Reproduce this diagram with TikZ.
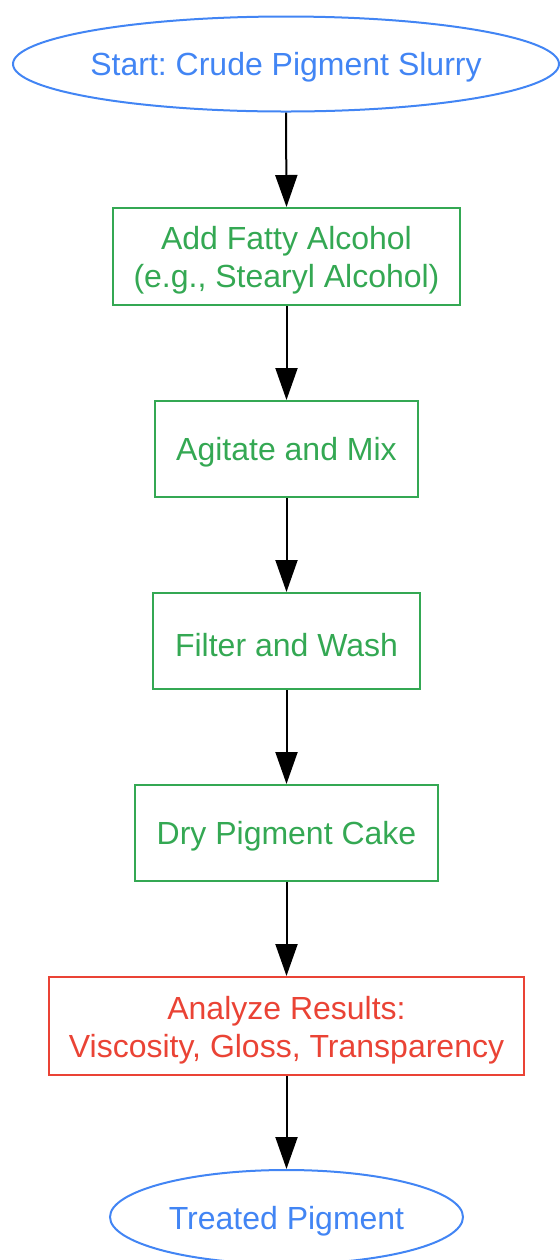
\documentclass[tikz,border=0pt]{standalone}
\usepackage{fontspec}
\setmainfont{Liberation Sans}
\usetikzlibrary{shapes.geometric,arrows.meta}
\definecolor{gblue}{HTML}{4285F4}
\definecolor{ggreen}{HTML}{34A853}
\definecolor{gred}{HTML}{EA4335}
\frenchspacing
\newcommand{\toppad}{\rule{0pt}{15.5pt}}
\begin{document}
\begin{tikzpicture}[x=0.5pt,y=-0.5pt,
  base/.style={line width=1pt,inner sep=0pt,font=\fontsize{16pt}{19pt}\selectfont},
  one/.style={text height=15.2pt},
  term/.style={base,one,ellipse,draw=gblue,text=gblue,inner xsep=-2pt},
  stepbox/.style={base,rectangle,draw=ggreen,text=ggreen,align=center},
  redbox/.style={base,rectangle,draw=gred,text=gred,align=center},
  conn/.style={-{Triangle[length=16pt,width=11pt]},line width=1pt,black}]
\useasboundingbox (0,0) rectangle (559,1260);
\node[term,minimum width=273pt,minimum height=47.5pt] (start) at (286,64) {Start: Crude Pigment Slurry};
\node[stepbox,minimum width=173.5pt,minimum height=48.5pt] (add) at (286.5,256.5) {\toppad Add Fatty Alcohol\\(e.g., Stearyl Alcohol)};
\node[stepbox,one,minimum width=131.5pt,minimum height=48pt] (mix) at (286.5,449) {Agitate and Mix};
\node[stepbox,one,minimum width=133.5pt,minimum height=48pt] (filt) at (286.5,641) {Filter and Wash};
\node[stepbox,one,minimum width=151.5pt,minimum height=48pt] (dry) at (286.5,833) {Dry Pigment Cake};
\node[redbox,minimum width=237.5pt,minimum height=49pt] (ana) at (286.5,1026) {\toppad Analyze Results:\\Viscosity, Gloss, Transparency};
\node[term,minimum width=176.5pt,minimum height=47pt,text height=16pt] (end) at (286.5,1217) {Treated Pigment};
\draw[conn] (start.south) -- (add.north);
\draw[conn] (add.south) -- (mix.north);
\draw[conn] (mix.south) -- (filt.north);
\draw[conn] (filt.south) -- (dry.north);
\draw[conn] (dry.south) -- (ana.north);
\draw[conn] (ana.south) -- (end.north);
\end{tikzpicture}
\end{document}
